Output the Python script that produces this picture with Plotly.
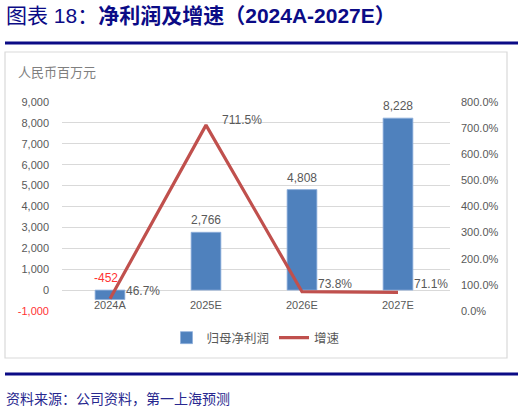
import plotly.graph_objects as go

# data
years = ['2024A', '2025E', '2026E', '2027E']
net_profit = [-452, 2766, 4808, 8228]          # 人民币百万元
growth = [46.7, 711.5, 73.8, 71.1]             # %

left_ticks = [-1000, 0, 1000, 2000, 3000, 4000, 5000, 6000, 7000, 8000, 9000]
right_ticks = [0, 100, 200, 300, 400, 500, 600, 700, 800]

W, H = 523, 411
L, R, T, B = 62, 73, 102, 100
NAVY = '#0b0b86'
GREY = '#595959'
BLUE = '#4f81bd'
RED = '#c0504d'
FONT = 'Liberation Sans, Noto Sans CJK SC'


def px(x):
    # reference pixel -> paper x
    return (x - L) / (W - L - R)


def py(y):
    # reference pixel -> paper y
    return (H - B - y) / (H - T - B)


def fmt(v):
    return '{:,}'.format(v)


fig = go.Figure()
fig.add_trace(go.Bar(
    x=years, y=net_profit, name='归母净利润',
    marker=dict(color=BLUE, line=dict(color='#8fb0dc', width=0.8)),
    yaxis='y',
))
fig.add_trace(go.Scatter(
    x=years, y=growth, name='增速', mode='lines',
    line=dict(color=RED, width=3.2),
    yaxis='y2',
))

ann = []
# bar labels
for yr, v in zip(years, net_profit):
    ann.append(dict(x=yr, y=max(v, 0), xref='x', yref='y', text=fmt(v),
                    showarrow=False, yanchor='bottom', yshift=3,
                    xshift=-4 if v < 0 else 0,
                    font=dict(size=12, color='#ff3333' if v < 0 else GREY)))
# growth labels
for yr, g in zip(years, growth):
    ann.append(dict(x=yr, y=g, xref='x', yref='y2', text='{:.1f}%'.format(g),
                    showarrow=False, xanchor='left', yanchor='middle',
                    xshift=14, yshift=5 if g > 500 else 8,
                    font=dict(size=12, color=GREY)))
# category labels sitting on the zero line
for yr in years:
    ann.append(dict(x=yr, y=0, xref='x', yref='y', text=yr, showarrow=False,
                    yanchor='top', yshift=-7, font=dict(size=11, color=GREY)))

ann.append(dict(x=px(4), y=py(15.5), xref='paper', yref='paper', xanchor='left', yanchor='middle',
                text='图表 18：<b>净利润及增速（2024A-2027E）</b>', showarrow=False,
                font=dict(size=21, color=NAVY, family='Liberation Sans, Noto Sans CJK SC')))
ann.append(dict(x=px(16), y=py(72), xref='paper', yref='paper', xanchor='left', yanchor='middle',
                text='人民币百万元', showarrow=False,
                font=dict(size=13, color='#7f7f7f', family='Noto Sans CJK SC')))
ann.append(dict(x=px(4), y=py(398), xref='paper', yref='paper', xanchor='left', yanchor='middle',
                text='资料来源：公司资料，第一上海预测', showarrow=False,
                font=dict(size=14, color='#27278f', family='Noto Sans CJK SC')))

shapes = [
    dict(type='line', xref='paper', yref='paper', x0=px(5), x1=px(518), y0=py(43), y1=py(43),
         line=dict(color=NAVY, width=3)),
    dict(type='rect', xref='paper', yref='paper', x0=px(5), x1=px(507), y0=py(52), y1=py(358),
         line=dict(color='#d9d9d9', width=1.2), layer='below'),
    dict(type='line', xref='paper', yref='paper', x0=px(5), x1=px(518), y0=py(374), y1=py(374),
         line=dict(color=NAVY, width=3)),
]

left_text = [fmt(v) if v >= 0 else "<span style='color:#ff3333'>" + fmt(v) + '</span>'
             for v in left_ticks]
right_text = ['{:.1f}%'.format(v) for v in right_ticks]

fig.update_layout(
    width=W, height=H,
    margin=dict(l=L, r=R, t=T, b=B),
    paper_bgcolor='white', plot_bgcolor='white',
    font=dict(family=FONT, color=GREY),
    showlegend=True,
    legend=dict(orientation='h', x=0.5, xanchor='center', y=py(338), yanchor='middle',
                font=dict(size=12.5, color=GREY, family='Noto Sans CJK SC'),
                itemwidth=30, tracegroupgap=0),
    bargap=0.69,
    xaxis=dict(showticklabels=False, showgrid=False, showline=False, ticks='', fixedrange=True),
    yaxis=dict(range=[-1000, 9000], tickvals=left_ticks, ticktext=left_text,
               showgrid=True, gridcolor='#d9d9d9', gridwidth=1,
               zeroline=True, zerolinecolor='#d9d9d9', zerolinewidth=1,
               tickfont=dict(size=11, color=GREY), ticklabelstandoff=12),
    yaxis2=dict(range=[0, 800], tickvals=right_ticks, ticktext=right_text,
                overlaying='y', side='right', showgrid=False, zeroline=False,
                tickfont=dict(size=11, color=GREY), ticklabelstandoff=10),
    annotations=ann,
    shapes=shapes,
)

# drop the default 8px body margin so the figure sits in the page corner
fig.write_html('out.html', config={'displayModeBar': False},
               post_script="document.body.style.margin='0';")
